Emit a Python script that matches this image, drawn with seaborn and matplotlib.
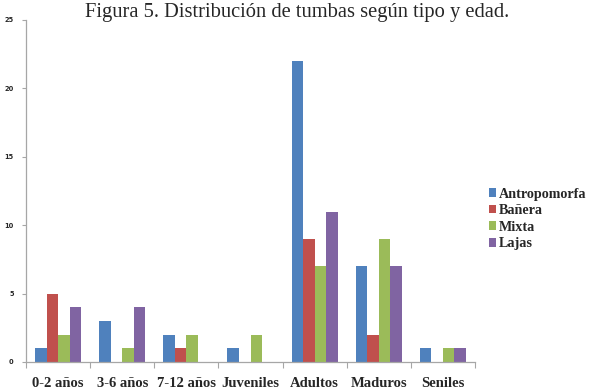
import numpy as np
import pandas as pd
import matplotlib
matplotlib.use("Agg")
import matplotlib.pyplot as plt
import seaborn as sns

categories = ["0-2 años", "3-6 años", "7-12 años", "Juveniles", "Adultos", "Maduros", "Seniles"]
series = ["Antropomorfa", "Bañera", "Mixta", "Lajas"]
antropomorfa = [1, 3, 2, 1, 22, 7, 1]
banera = [5, 0, 1, 0, 9, 2, 0]
mixta = [2, 1, 2, 2, 7, 9, 1]
lajas = [4, 4, 0, 0, 11, 7, 1]
yticks = [0, 5, 10, 15, 20, 25]

colors = ["#4F81BD", "#C0504D", "#9BBB59", "#8064A2"]

rows = []
for name, vals in zip(series, [antropomorfa, banera, mixta, lajas]):
    for cat, v in zip(categories, vals):
        rows.append({"edad": cat, "tipo": name, "n": v})
df = pd.DataFrame(rows)

sns.set_theme(style="white")
plt.rcParams["font.family"] = ["Liberation Serif", "DejaVu Serif"]

fig = plt.figure(figsize=(5.9, 3.92), dpi=100)
ax = fig.add_axes([26 / 590, 1 - 362 / 392, 449 / 590, 342 / 392])

sns.barplot(data=df, x="edad", y="n", hue="tipo", order=categories,
            hue_order=series, palette=colors, width=0.72, gap=0,
            saturation=1, linewidth=0, ax=ax, legend=True)

ax.set_ylim(0, 25)
ax.set_xlim(-0.5, len(categories) - 0.5)
ax.set_yticks(yticks)
ax.set_yticklabels([str(t) for t in yticks], fontsize=4.8, fontweight="bold",
                   family="DejaVu Sans")
ax.set_xlabel("")
ax.set_ylabel("")

for side in ["top", "right"]:
    ax.spines[side].set_visible(False)
for side in ["left", "bottom"]:
    ax.spines[side].set_color("#A6A6A6")
    ax.spines[side].set_linewidth(0.9)

ax.tick_params(axis="y", which="major", left=True, length=3, width=0.8,
               color="#A6A6A6", pad=6)
ax.set_xticks(np.arange(-0.5, len(categories)), minor=True)
ax.tick_params(axis="x", which="minor", bottom=True, length=4, width=0.8,
               color="#A6A6A6")
ax.tick_params(axis="x", which="major", bottom=False, length=0, pad=11)
for lbl in ax.get_xticklabels():
    lbl.set_fontsize(10.5)
    lbl.set_fontweight("bold")

leg = ax.legend(loc="center left", bbox_to_anchor=(483 / 590, 1 - 219 / 392),
                bbox_transform=fig.transFigure, frameon=False,
                prop={"family": "Liberation Serif", "weight": "bold", "size": 10.2},
                handlelength=0.55, handleheight=0.55, handletextpad=0.2,
                labelspacing=0.25, borderaxespad=0)

fig.text(297 / 590, 1 - 13 / 392, "Figura 5. Distribución de tumbas según tipo y edad.",
         ha="center", va="center", fontsize=14.8, family="Liberation Serif")

fig.savefig("out.png", dpi=100, facecolor="white")
